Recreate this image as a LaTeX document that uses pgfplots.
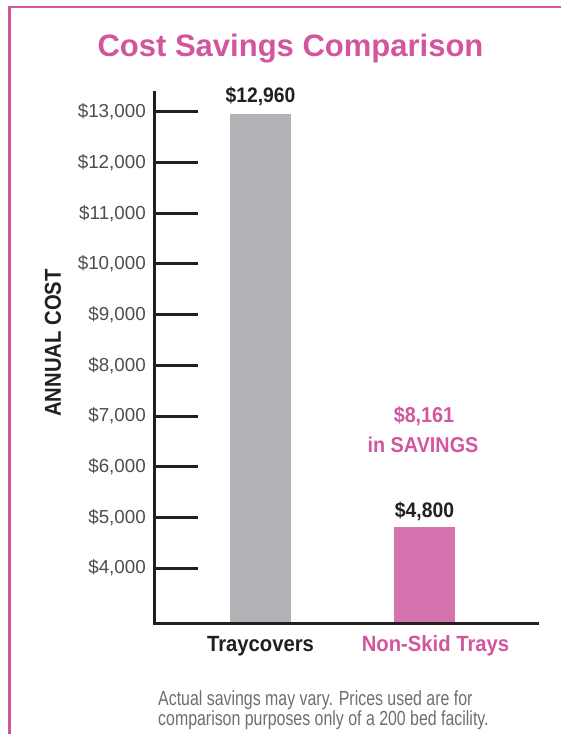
\documentclass[border=0pt]{standalone}
\usepackage{fontspec}
\setmainfont{Liberation Sans}
\newfontfamily\condfont[FakeStretch=0.78]{Liberation Sans}
\newfontfamily\ylabfont[FakeStretch=0.88]{Liberation Sans}
\newfontfamily\labfont[FakeStretch=0.92]{Liberation Sans}
\usepackage{pgfplots}
\pgfplotsset{compat=1.18}
\definecolor{pinktxt}{HTML}{D2559E}
\definecolor{pinkbar}{HTML}{D473AE}
\definecolor{graybar}{HTML}{B1B2B5}
\definecolor{axisblk}{HTML}{231F20}
\definecolor{ticktxt}{HTML}{4D4D4F}
\definecolor{notetxt}{HTML}{6D6E71}
\begin{document}
\begin{tikzpicture}[x=1pt,y=1pt]
\path[use as bounding box] (0,0) rectangle (561,734);
\draw[pinktxt, line width=2.5pt] (9.5,0) -- (9.5,727) -- (561,727);
\begin{axis}[
  at={(154pt,110pt)}, anchor=south west,
  scale only axis, width=383pt, height=531pt,
  xmin=-0.649, xmax=1.686, ymin=2895, ymax=13375,
  axis lines=left,
  axis line style={-, line width=3pt, color=axisblk, line cap=rect},
  axis on top,
  scaled y ticks=false,
  xtick=\empty,
  ytick={4000,5000,6000,7000,8000,9000,10000,11000,12000,13000},
  yticklabels={{\$4,000},{\$5,000},{\$6,000},{\$7,000},{\$8,000},{\$9,000},{\$10,000},{\$11,000},{\$12,000},{\$13,000}},
  major tick style={line width=3pt, color=axisblk},
  major tick length=44pt, tick align=inside,
  yticklabel style={font=\fontsize{18.8}{20}\selectfont, text=ticktxt, anchor=east, inner sep=0pt, xshift=-8pt},
  ybar, bar width=61pt, bar shift=0pt,
]
\addplot[fill=graybar, draw=none] coordinates {(0,12960)};
\addplot[fill=pinkbar, draw=none] coordinates {(1,4800)};
\coordinate (g) at (axis cs:0,12960);
\coordinate (p) at (axis cs:1,4800);
\end{axis}
\node[anchor=base, inner sep=0pt, text=pinktxt, font=\bfseries\fontsize{31}{36}\selectfont] at (290.5,677) {Cost Savings Comparison};
\node[anchor=base, inner sep=0pt, text=axisblk, font=\labfont\bfseries\fontsize{21}{24}\selectfont] at ([yshift=12pt]g) {\$12,960};
\node[anchor=base, inner sep=0pt, text=axisblk, font=\labfont\bfseries\fontsize{21}{24}\selectfont] at ([yshift=10pt]p) {\$4,800};
\node[rotate=90, inner sep=0pt, text=axisblk, font=\ylabfont\bfseries\fontsize{23}{26}\selectfont] at (53,391) {ANNUAL COST};
\node[anchor=base, inner sep=0pt, text=pinktxt, font=\labfont\bfseries\fontsize{21.5}{24}\selectfont] at (424,311) {\$8,161};
\node[anchor=base, inner sep=0pt, text=pinktxt, font=\labfont\bfseries\fontsize{21.5}{24}\selectfont] at (423,281) {in SAVINGS};
\node[anchor=base, inner sep=0pt, text=axisblk, font=\labfont\bfseries\fontsize{22}{24}\selectfont] at (260.5,82) {Traycovers};
\node[anchor=base, inner sep=0pt, text=pinktxt, font=\labfont\bfseries\fontsize{22}{24}\selectfont] at (435.5,82) {Non-Skid Trays};
\node[anchor=base west, inner sep=0pt, text=notetxt, font=\condfont\fontsize{20.4}{22}\selectfont] at (158,28.5) {Actual savings may vary. Prices used are for};
\node[anchor=base west, inner sep=0pt, text=notetxt, font=\condfont\fontsize{20.4}{22}\selectfont] at (158,9) {comparison purposes only of a 200 bed facility.};
\end{tikzpicture}
\end{document}
